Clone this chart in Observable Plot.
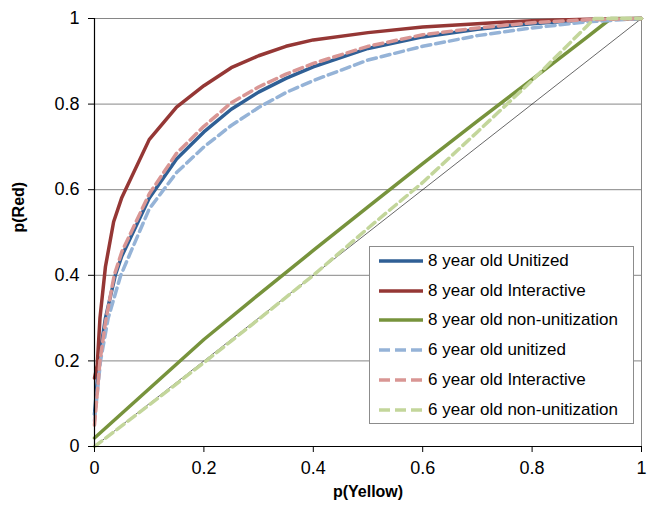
<!DOCTYPE html>
<html>
<head>
<meta charset="utf-8">
<script src="https://cdn.jsdelivr.net/npm/d3@7"></script>
<script src="https://cdn.jsdelivr.net/npm/@observablehq/plot@0.6"></script>
<style>
  body { margin: 0; background: #fff; }
  #wrap { position: relative; width: 649px; height: 507px; font-family: "Liberation Sans", Arial, sans-serif; }
  #legend { position: absolute; left: 369px; top: 246px; width: 263px; height: 176px; border: 1px solid #8c8c8c; background: #fff; }
  .row { position: absolute; left: 8px; height: 20px; display: flex; align-items: center; font-size: 17px; color: #000; white-space: nowrap; }
  .row svg { margin-right: 4px; }
</style>
</head>
<body>
<div id="wrap"><div id="legend"></div></div>
<script>
// ---- data ----
const seriesNames = ["8 year old Unitized", "8 year old Interactive", "8 year old non-unitization",
                     "6 year old unitized", "6 year old Interactive", "6 year old non-unitization"];
const seriesColors = ["#2F5F95", "#953735", "#77933C", "#95B3D7", "#D99694", "#C3D69B"];
const seriesDashed = [false, false, false, true, true, true];

const unit8X = [0, 0.008, 0.02, 0.038, 0.05, 0.1, 0.15, 0.2, 0.25, 0.3, 0.35, 0.4, 0.5, 0.6, 0.7, 0.8, 0.9, 1];
const unit8Y = [0.075, 0.2, 0.3, 0.4, 0.445, 0.58, 0.672, 0.735, 0.788, 0.828, 0.86, 0.887, 0.93, 0.957, 0.975, 0.988, 0.997, 1];

const inter8X = [0, 0.005, 0.01, 0.02, 0.035, 0.05, 0.1, 0.15, 0.2, 0.25, 0.3, 0.35, 0.4, 0.5, 0.6, 0.7, 0.8, 0.9, 1];
const inter8Y = [0.16, 0.19, 0.3, 0.42, 0.525, 0.582, 0.717, 0.793, 0.843, 0.885, 0.913, 0.935, 0.95, 0.967, 0.98, 0.988, 0.995, 0.998, 1];

const non8X = [0, 0.1, 0.2, 0.3, 0.4, 0.5, 0.6, 0.7, 0.8, 0.9, 0.944, 1];
const non8Y = [0.02, 0.135, 0.25, 0.355, 0.458, 0.56, 0.661, 0.76, 0.858, 0.956, 1, 1];

const unit6X = [0, 0.011, 0.025, 0.048, 0.1, 0.15, 0.2, 0.25, 0.3, 0.35, 0.4, 0.5, 0.6, 0.7, 0.8, 0.9, 1];
const unit6Y = [0.06, 0.2, 0.3, 0.4, 0.555, 0.64, 0.7, 0.75, 0.792, 0.827, 0.855, 0.903, 0.935, 0.96, 0.978, 0.992, 1];

const inter6X = [0, 0.01, 0.02, 0.036, 0.05, 0.1, 0.15, 0.2, 0.25, 0.3, 0.35, 0.4, 0.5, 0.6, 0.7, 0.8, 0.9, 1];
const inter6Y = [0.05, 0.2, 0.29, 0.4, 0.455, 0.59, 0.685, 0.748, 0.803, 0.84, 0.87, 0.895, 0.935, 0.962, 0.978, 0.99, 0.997, 1];

const non6X = [0, 0.1, 0.2, 0.3, 0.4, 0.5, 0.6, 0.7, 0.8, 0.9, 0.914, 1];
const non6Y = [0, 0.097, 0.196, 0.297, 0.4, 0.51, 0.617, 0.735, 0.855, 0.982, 1, 1];

const diagonalX = [0, 1];
const diagonalY = [0, 1];

const xTicks = [0, 0.2, 0.4, 0.6, 0.8, 1];
const yTicks = [0, 0.2, 0.4, 0.6, 0.8, 1];
const xTitle = "p(Yellow)";
const yTitle = "p(Red)";

// ---- build ----
const allX = [unit8X, inter8X, non8X, unit6X, inter6X, non6X];
const allY = [unit8Y, inter8Y, non8Y, unit6Y, inter6Y, non6Y];
const series = seriesNames.map((name, i) => ({
  name, color: seriesColors[i], dashed: seriesDashed[i],
  data: allX[i].map((x, j) => ({x, y: allY[i][j]}))
}));
const diagonal = diagonalX.map((x, j) => ({x, y: diagonalY[j]}));

const marks = [
  Plot.ruleY(yTicks.filter(d => d > 0), {stroke: "#868686", strokeWidth: 1}),
  Plot.ruleX([1], {stroke: "#868686", strokeWidth: 1}),
  Plot.line(diagonal, {x: "x", y: "y", stroke: "#000", strokeWidth: 0.6}),
  ...series.map(s => Plot.line(s.data, {
    x: "x", y: "y", stroke: s.color, strokeWidth: 3.5,
    strokeDasharray: s.dashed ? "9,5" : null, strokeLinejoin: "round"
  })),
  Plot.ruleY([0], {stroke: "#000", strokeWidth: 1.2}),
  Plot.ruleX([0], {stroke: "#000", strokeWidth: 1.2}),
  Plot.axisX({ticks: xTicks, tickFormat: d => String(d), tickSize: 6, tickPadding: 9, label: null, fontSize: 18}),
  Plot.axisY({ticks: yTicks, tickFormat: d => String(d), tickSize: 6, tickPadding: 9, label: null, fontSize: 18}),
  Plot.text([xTitle], {frameAnchor: "bottom", dy: 50, fontWeight: "bold", fontSize: 16, text: d => d}),
  Plot.text([yTitle], {frameAnchor: "left", dx: -76, rotate: -90, fontWeight: "bold", fontSize: 16, text: d => d})
];

const chart = Plot.plot({
  width: 649, height: 507,
  marginLeft: 94, marginRight: 8, marginTop: 18, marginBottom: 61,
  x: {domain: [0, 1]},
  y: {domain: [0, 1]},
  style: {fontFamily: "'Liberation Sans', Arial, sans-serif", color: "#000", background: "#fff", overflow: "visible"},
  marks
});
document.getElementById("wrap").prepend(chart);

// ---- legend ----
const legend = d3.select("#legend");
series.forEach((s, i) => {
  const row = legend.append("div").attr("class", "row").style("top", (4 + i * 29.7) + "px");
  const sv = row.append("svg").attr("width", 46).attr("height", 8);
  sv.append("line").attr("x1", 1).attr("x2", 45).attr("y1", 4).attr("y2", 4)
    .attr("stroke", s.color).attr("stroke-width", 3.5)
    .attr("stroke-dasharray", s.dashed ? "11,5" : null);
  row.append("span").text(s.name);
});
</script>
</body>
</html>
